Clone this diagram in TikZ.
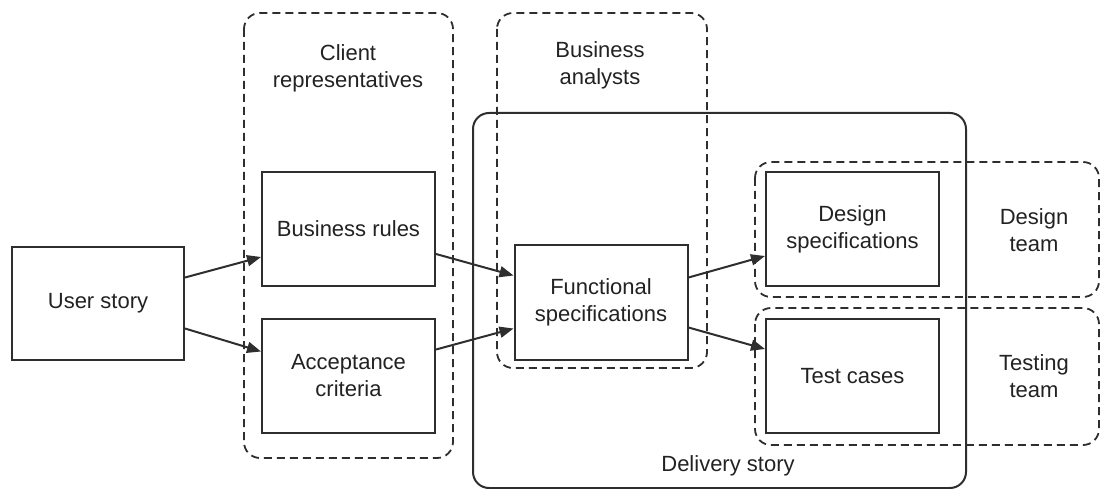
\documentclass[tikz,border=0pt]{standalone}
\usepackage{fontspec}
\setmainfont{Liberation Sans}
\usetikzlibrary{arrows.meta}
\definecolor{ln}{HTML}{2E2E2E}
\definecolor{tx}{HTML}{222222}
\begin{document}
\begin{tikzpicture}[x=1pt,y=-1pt,
  box/.style={draw=ln, line width=2pt, fill=white, minimum width=173pt, minimum height=114pt,
    align=center, font=\fontsize{22}{27}\selectfont, text=tx, inner sep=0pt},
  grp/.style={draw=ln, line width=1.8pt, dash pattern=on 8pt off 5pt, rounded corners=16pt},
  delivery/.style={draw=ln, line width=2pt, rounded corners=16pt},
  lbl/.style={align=center, font=\fontsize{22}{27}\selectfont, text=tx},
  arr/.style={draw=ln, line width=2pt, -{Triangle[length=14pt,width=11pt]}}]
\useasboundingbox (0,0) rectangle (1101,489);
% containers
\draw[grp] (244,13) rectangle (453,458);
\draw[grp] (497,13) rectangle (707,368);
\draw[delivery] (473,113) rectangle (966,488);
\draw[grp] (755,162) rectangle (1099,297);
\draw[grp] (755,308) rectangle (1099,445);
% labels
\node[lbl] (clientlbl) at (348,68) {Client\\representatives};
\node[lbl] (balbl) at (600,65) {Business\\analysts};
\node[lbl] (dtlbl) at (1034,230) {Design\\team};
\node[lbl] (ttlbl) at (1034,376) {Testing\\team};
\node[lbl] (dllbl) at (728,466) {Delivery story};
% nodes
\node[box, minimum width=172pt, minimum height=113pt] (us) at (98,303.5) {User story};
\node[box] (br) at (348.5,229) {Business rules};
\node[box] (ac) at (348.5,375.5) {Acceptance\\criteria};
\node[box] (fs) at (601,302.5) {Functional\\specifications};
\node[box] (ds) at (852.5,229) {Design\\specifications};
\node[box] (tc) at (852.5,376) {Test cases};
% connectors
\draw[arr] ([yshift=26pt]us.east) -- ([yshift=-28pt]br.west);
\draw[arr] ([yshift=-25pt]us.east) -- ([yshift=24pt]ac.west);
\draw[arr] ([yshift=-25pt]br.east) -- ([yshift=27pt]fs.west);
\draw[arr] ([yshift=26pt]ac.east) -- ([yshift=-26pt]fs.west);
\draw[arr] ([yshift=25pt]fs.east) -- ([yshift=-27pt]ds.west);
\draw[arr] ([yshift=-25pt]fs.east) -- ([yshift=27pt]tc.west);
\end{tikzpicture}
\end{document}
